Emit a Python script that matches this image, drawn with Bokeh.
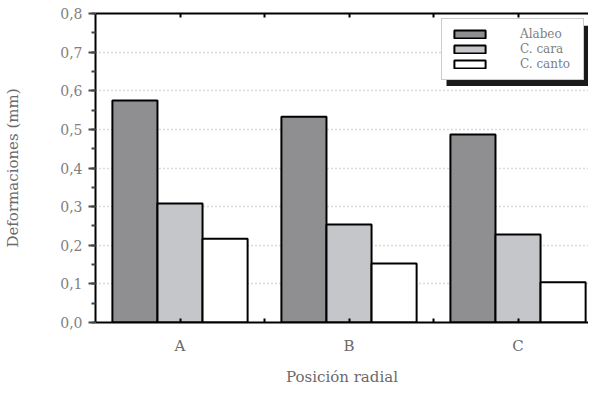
import numpy as np
from bokeh.plotting import figure
from bokeh.models import (ColumnDataSource, Range1d, FixedTicker, LinearAxis, Legend,
                          LegendItem, BoxAnnotation)
from bokeh.transform import dodge
from bokeh.embed import file_html
from bokeh.resources import INLINE

categories = ["A", "B", "C"]
series_names = ["Alabeo", "C. cara", "C. canto"]
alabeo = [0.575, 0.533, 0.487]
c_cara = [0.308, 0.254, 0.228]
c_canto = [0.217, 0.153, 0.104]
y_ticks = [0.0, 0.1, 0.2, 0.3, 0.4, 0.5, 0.6, 0.7, 0.8]
y_tick_labels = ["0,0", "0,1", "0,2", "0,3", "0,4", "0,5", "0,6", "0,7", "0,8"]

colors = ["#8f8f91", "#c5c6c9", "#ffffff"]
FONT = "DejaVu Serif"
TXT = "#808080"

xpos = [i + 0.5 for i in range(len(categories))]
src = ColumnDataSource(dict(x=xpos, alabeo=alabeo, c_cara=c_cara, c_canto=c_canto))

p = figure(width=588, height=388, output_backend="svg", toolbar_location=None,
           x_range=Range1d(0, 2.917), y_range=Range1d(0, 0.8),
           min_border_left=95, min_border_top=13, min_border_bottom=66, min_border_right=0)
p.outline_line_color = None
p.background_fill_color = "white"

w = 0.8 / 3
keys = ["alabeo", "c_cara", "c_canto"]
offs = [-w, 0, w]
rends = []
for k, o, c in zip(keys, offs, colors):
    r = p.vbar(x=dodge("x", o, range=p.x_range), top=k, width=w, bottom=0, source=src,
               fill_color=c, line_color="black", line_width=2)
    rends.append(r)

# grid
p.xgrid.visible = False
p.ygrid.ticker = FixedTicker(ticks=y_ticks[1:-1])
p.ygrid.grid_line_color = "#b5b5b5"
p.ygrid.grid_line_dash = "1 3"
p.ygrid.grid_line_width = 1.5

# y axis
ya = p.yaxis[0]
ya.ticker = FixedTicker(ticks=y_ticks, minor_ticks=[i * 0.05 for i in range(17)])
ya.major_label_overrides = {t: l for t, l in zip(y_ticks, y_tick_labels)}
ya.major_label_text_font = FONT
ya.major_label_text_font_size = "14px"
ya.major_label_text_color = TXT
ya.major_tick_in = 0
ya.major_tick_out = 7
ya.minor_tick_in = 0
ya.minor_tick_out = 4
ya.major_tick_line_width = 2
ya.minor_tick_line_width = 2
ya.major_tick_line_color = "#444444"
ya.minor_tick_line_color = "#444444"
ya.major_label_standoff = 6
ya.axis_line_width = 2
ya.axis_line_color = "black"
ya.axis_label = "Deformaciones (mm)"
ya.axis_label_text_font = FONT
ya.axis_label_text_font_size = "15px"
ya.axis_label_text_font_style = "normal"
ya.axis_label_text_color = "#6a6a6a"
ya.axis_label_standoff = 35

# x axis
xa = p.xaxis[0]
xa.ticker = FixedTicker(ticks=xpos, minor_ticks=[1.0, 2.0])
xa.major_label_overrides = {t: l for t, l in zip(xpos, categories)}
xa.major_label_text_font = FONT
xa.major_label_text_font_size = "15px"
xa.major_label_text_color = "#6a6a6a"
xa.major_tick_in = 4
xa.major_tick_out = 0
xa.minor_tick_in = 4
xa.minor_tick_out = 0
xa.major_tick_line_width = 2
xa.minor_tick_line_width = 2
xa.major_label_standoff = 14
xa.axis_line_width = 2
xa.axis_line_color = "black"
xa.axis_label = "Posición radial"
xa.axis_label_text_font = FONT
xa.axis_label_text_font_size = "15px"
xa.axis_label_text_font_style = "normal"
xa.axis_label_text_color = "#6a6a6a"
xa.axis_label_standoff = 10

# top axis (mirror, ticks only)
ta = LinearAxis(ticker=FixedTicker(ticks=xpos, minor_ticks=[1.0, 2.0]))
ta.major_label_overrides = {t: "" for t in xpos}
ta.major_label_standoff = 0
ta.major_tick_in = 4
ta.major_tick_out = 0
ta.minor_tick_in = 4
ta.minor_tick_out = 0
ta.major_tick_line_width = 2
ta.minor_tick_line_width = 2
ta.axis_line_width = 2
ta.axis_line_color = "black"
p.add_layout(ta, "above")

# legend shadow
shadow = BoxAnnotation(left=2.077, right=2.917, top=0.768, bottom=0.612,
                       fill_color="#1a1a1a", fill_alpha=1.0, line_color=None, level="overlay")
p.add_layout(shadow)

legend = Legend(items=[LegendItem(label=n, renderers=[r]) for n, r in zip(series_names, rends)],
                location=(346, 242))
legend.label_text_font = FONT
legend.label_text_font_size = "12px"
legend.label_text_color = TXT
legend.glyph_width = 39
legend.glyph_height = 10
legend.label_height = 14
legend.label_width = 55
legend.label_standoff = 31
legend.spacing = 1
legend.padding = 8
legend.margin = 0
legend.border_line_color = "#999999"
legend.border_line_width = 1
legend.background_fill_color = "white"
legend.background_fill_alpha = 1.0
p.add_layout(legend, "center")

open("out.html", "w").write(file_html(p, INLINE))
